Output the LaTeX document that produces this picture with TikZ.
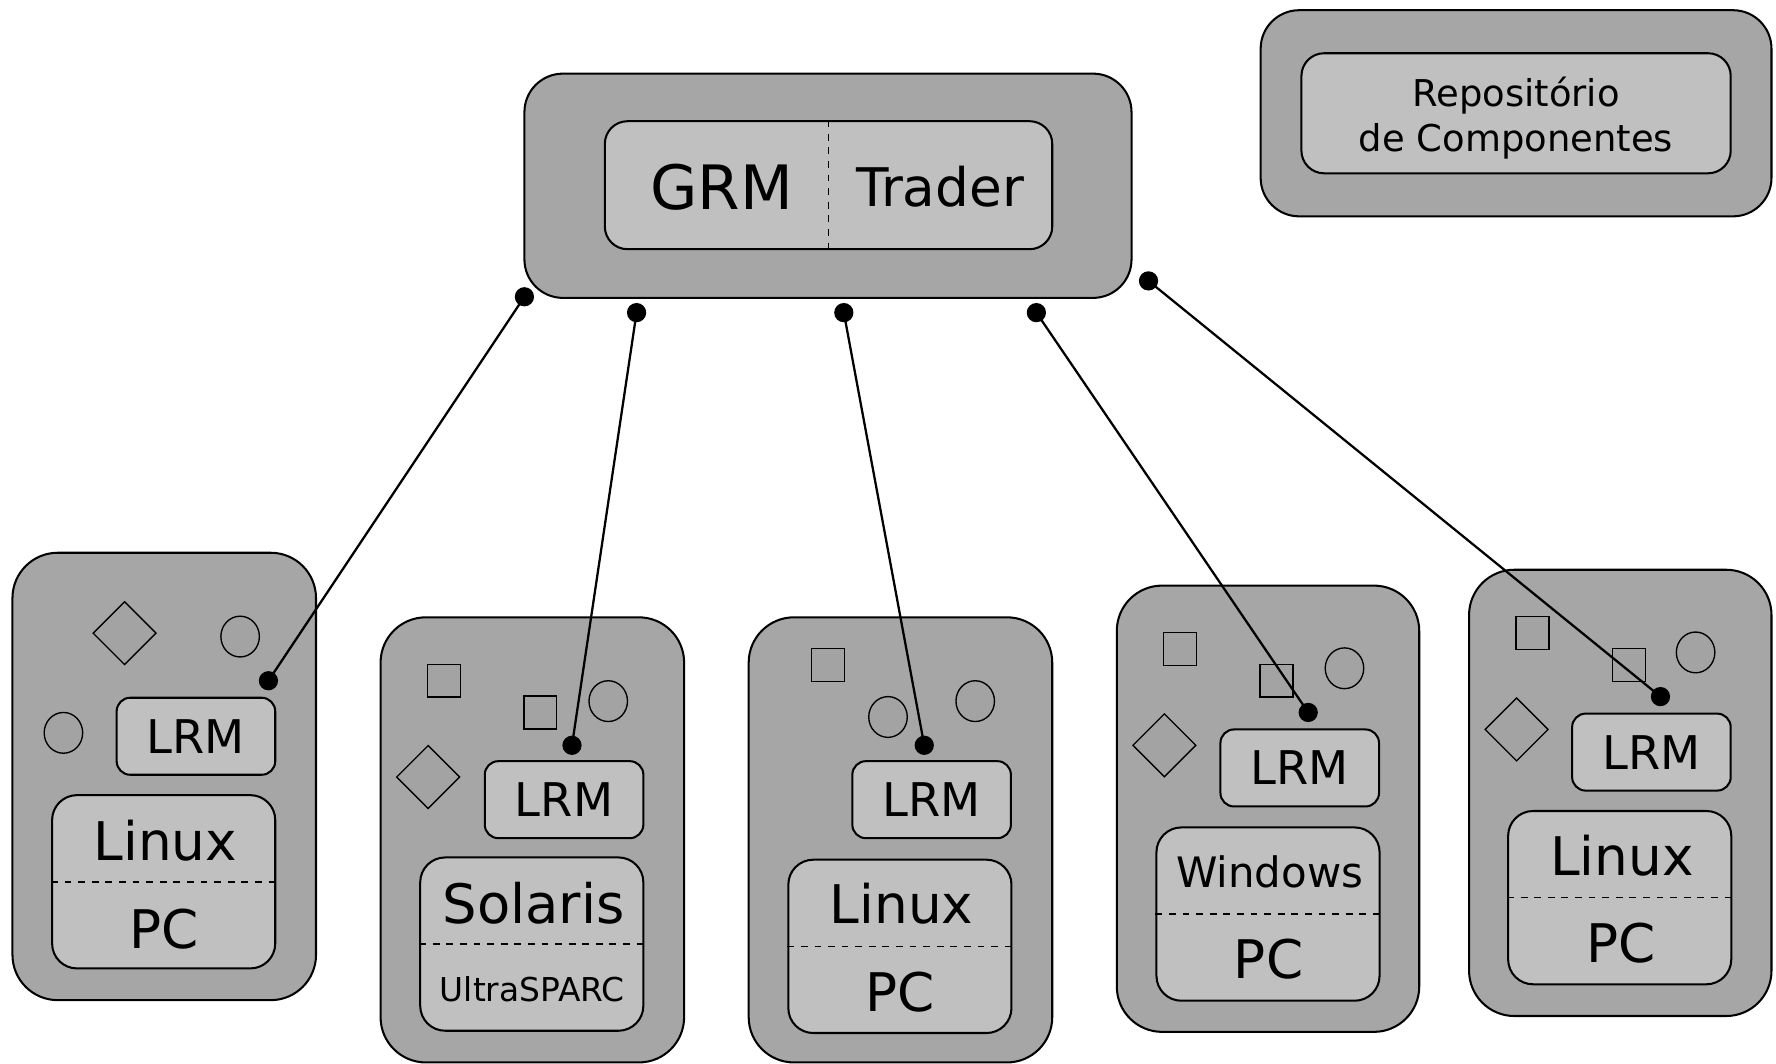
\documentclass[tikz,border=0pt]{standalone}
\usepackage{fontspec}
\setmainfont{DejaVu Sans}
\usetikzlibrary{shapes.geometric}
\definecolor{outerg}{HTML}{A6A6A6}
\definecolor{innerg}{HTML}{C0C0C0}
\definecolor{shapeg}{HTML}{A3A3A3}
\newcommand{\fs}[1]{\fontsize{#1}{#1}\selectfont}
\tikzset{
  outerbox/.style={draw, line width=0.9pt, fill=outerg, rounded corners=20pt, inner sep=0pt},
  innerbox/.style={draw, line width=0.9pt, fill=innerg, rounded corners=10pt, inner sep=0pt},
  lrmbox/.style={draw, line width=0.9pt, fill=innerg, rounded corners=6pt, inner sep=0pt,
    minimum width=70pt, minimum height=34pt, font=\fs{20.5pt}},
  osbox/.style={draw, line width=0.9pt, fill=innerg, rounded corners=11pt, inner sep=0pt,
    minimum width=98.5pt, minimum height=76.5pt},
  hostbox/.style={outerbox, minimum width=133.5pt, minimum height=197pt},
  sq/.style={draw, line width=0.6pt, fill=shapeg, minimum size=14.5pt, inner sep=0pt},
  circ/.style={draw, line width=0.6pt, fill=shapeg, ellipse, minimum width=17pt, minimum height=18pt, inner sep=0pt},
  dia/.style={draw, line width=0.6pt, fill=shapeg, diamond, minimum width=28pt, minimum height=28pt, inner sep=0pt},
  dot/.style={circle, fill=black, minimum size=8.5pt, inner sep=0pt},
  sep/.style={dashed, line width=0.7pt},
  conn/.style={line width=1pt},
  big/.style={font=\fs{23.5pt}, inner sep=0pt},
}
\begin{document}
\begin{tikzpicture}[x=0.5pt, y=-0.5pt]
\useasboundingbox (0,0) rectangle (1568,939);

% GRM / Trader
\node[outerbox, minimum width=268pt, minimum height=99pt, rounded corners=17pt] (grmout) at (731,164) {};
\node[innerbox, minimum width=197.5pt, minimum height=56.5pt] (grmin) at (731.5,163.5) {};
\draw[sep] (grmin.north) -- (grmin.south);
\node[font=\fs{27pt}, inner sep=0pt] (grm) at (637,165) {GRM};
\node[font=\fs{23.5pt}, inner sep=0pt] (trader) at (830,165) {Trader};

% Repository
\node[outerbox, minimum width=225.5pt, minimum height=91pt, rounded corners=17pt] (repout) at (1338.5,100) {};
\node[innerbox, minimum width=189.5pt, minimum height=53pt] (repin) at (1338.5,100) {};
\node[font=\fontsize{16.3pt}{20pt}\selectfont, align=center, inner sep=0pt] (reptxt) at (1338.5,104)
  {Repositório\\de Componentes};

% Host 1
\node[hostbox, minimum width=134pt, minimum height=197.5pt] (h1) at (145,685.5) {};
\node[dia] (h1d) at (110,559) {};
\node[circ] (h1c1) at (212,562) {};
\node[circ] (h1c2) at (56,647) {};
\node[lrmbox] (lrm1) at (173,650) {LRM};
\node[osbox] (os1) at (144.5,778.5) {};
\draw[sep] (os1.west) -- (os1.east);
\node[big] (os1a) at (146,742) {Linux};
\node[big] (os1b) at (145,820) {PC};

% Host 2
\node[hostbox, minimum width=134pt, minimum height=196.5pt] (h2) at (470,741.5) {};
\node[sq] (h2s1) at (392,601) {};
\node[sq] (h2s2) at (477,629) {};
\node[circ] (h2c1) at (537,619) {};
\node[dia] (h2d) at (378,686) {};
\node[lrmbox] (lrm2) at (498,706) {LRM};
\node[osbox] (os2) at (469.5,833.5) {};
\draw[sep] (os2.west) -- (os2.east);
\node[font=\fs{24pt}, inner sep=0pt] (os2a) at (471,797) {Solaris};
\node[font=\fs{14.5pt}, inner sep=0pt] (os2b) at (470,873) {UltraSPARC};

% Host 3
\node[hostbox, minimum width=134pt, minimum height=196.5pt] (h3) at (795,741.5) {};
\node[sq] (h3s1) at (731,587) {};
\node[circ] (h3c1) at (784,633) {};
\node[circ] (h3c2) at (861,619) {};
\node[lrmbox] (lrm3) at (822.5,706) {LRM};
\node[osbox] (os3) at (794.5,835.5) {};
\draw[sep] (os3.west) -- (os3.east);
\node[big] (os3a) at (796,798) {Linux};
\node[big] (os3b) at (795,876) {PC};

% Host 4
\node[hostbox] (h4) at (1119.5,714) {};
\node[sq] (h4s1) at (1042,573) {};
\node[sq] (h4s2) at (1127,601) {};
\node[circ] (h4c1) at (1187,590) {};
\node[dia] (h4d) at (1028,658) {};
\node[lrmbox] (lrm4) at (1147.5,678) {LRM};
\node[osbox] (os4) at (1119.5,807) {};
\draw[sep] (os4.west) -- (os4.east);
\node[font=\fs{18.5pt}, inner sep=0pt] (os4a) at (1121,770) {Windows};
\node[big] (os4b) at (1120,847) {PC};

% Host 5
\node[hostbox] (h5) at (1430.5,700) {};
\node[sq] (h5s1) at (1353,559) {};
\node[sq] (h5s2) at (1438,587) {};
\node[circ] (h5c1) at (1497,576) {};
\node[dia] (h5d) at (1339,644) {};
\node[lrmbox] (lrm5) at (1458,664) {LRM};
\node[osbox] (os5) at (1430,792.5) {};
\draw[sep] (os5.west) -- (os5.east);
\node[big] (os5a) at (1432,755) {Linux};
\node[big] (os5b) at (1431,833) {PC};

% connector end points
\node[dot] (t1) at (463,262) {};
\node[dot] (t2) at (562,276) {};
\node[dot] (t3) at (745,276) {};
\node[dot] (t4) at (915,276) {};
\node[dot] (t5) at (1014,248) {};
\node[dot] (b1) at (237,601) {};
\node[dot] (b2) at (505,658) {};
\node[dot] (b3) at (816,658) {};
\node[dot] (b4) at (1155,629) {};
\node[dot] (b5) at (1466,615) {};

\draw[conn] (t1.center) -- (b1.center);
\draw[conn] (t2.center) -- (b2.center);
\draw[conn] (t3.center) -- (b3.center);
\draw[conn] (t4.center) -- (b4.center);
\draw[conn] (t5.center) -- (b5.center);
\end{tikzpicture}
\end{document}
